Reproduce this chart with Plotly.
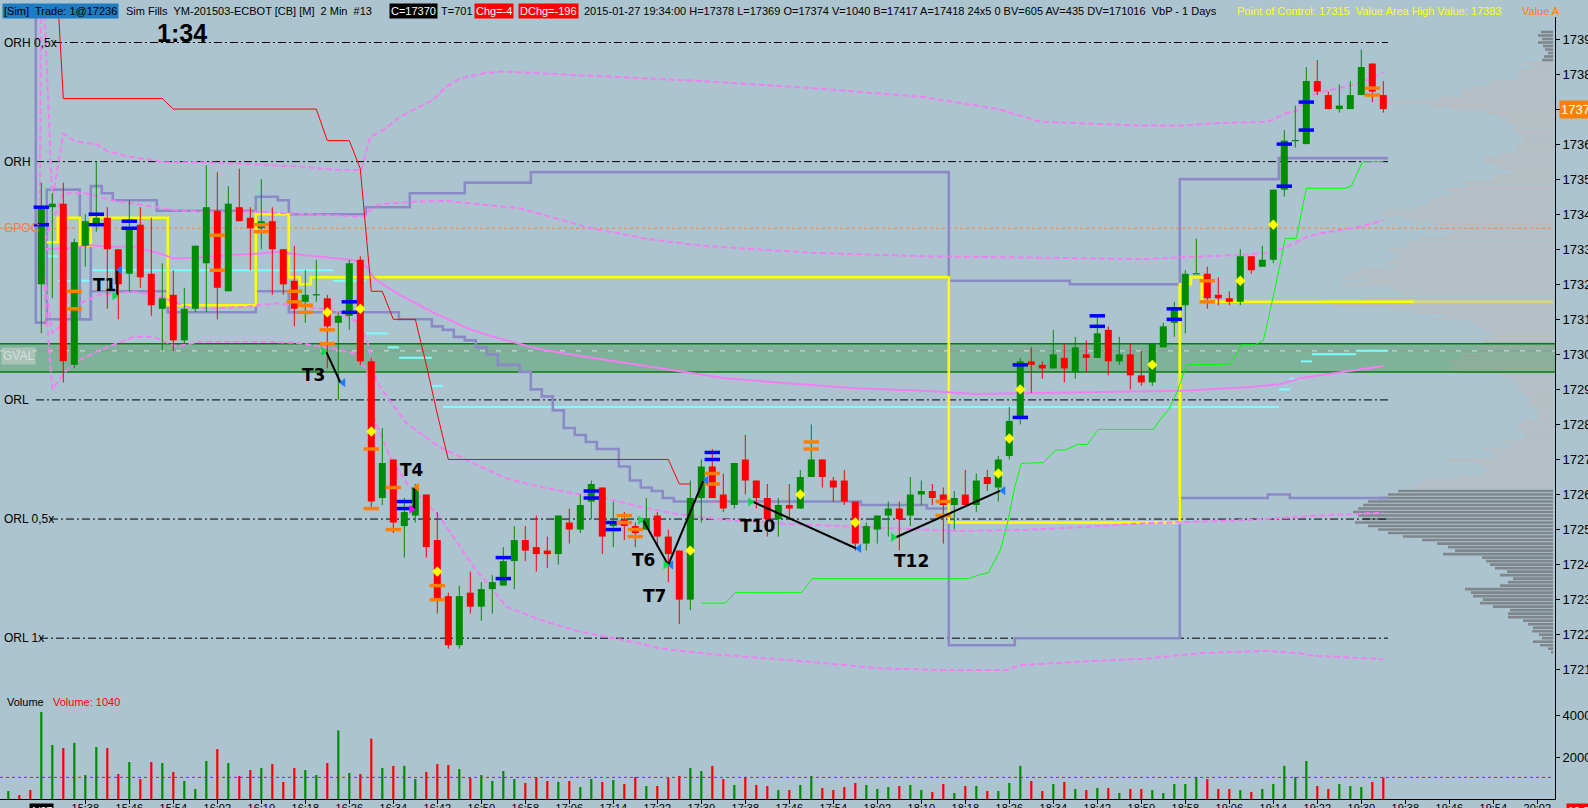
import plotly.graph_objects as go

BG = "#acc4d0"
FONT = "Liberation Sans, Arial, sans-serif"
GREEN = "#008c00"
RED = "#ff0000"

# YM 03-15, 2 min bars, 27 Jan 2015, bar 0 = 15:30 (session open)
OPEN = [17320, 17342, 17343, 17297, 17331, 17337, 17339, 17330, 17323, 17337,
        17323, 17313, 17317, 17304, 17313, 17326, 17341, 17318, 17342, 17339,
        17336, 17338, 17330, 17321, 17315, 17317, 17316, 17309, 17311, 17327,
        17298, 17259, 17270, 17251, 17254, 17260, 17247, 17231, 17217, 17232,
        17228, 17233, 17234, 17241, 17247, 17245, 17244, 17243, 17252, 17250,
        17258, 17262, 17251, 17253, 17251, 17250, 17254, 17248, 17244, 17230,
        17259, 17268, 17260, 17257, 17270, 17264, 17259, 17253, 17257, 17256,
        17265, 17270, 17264, 17264, 17258, 17246, 17250, 17254, 17256, 17254,
        17260, 17261, 17260, 17257, 17260, 17257, 17265, 17262, 17271, 17282,
        17298, 17297, 17296, 17299, 17295, 17300, 17299, 17307, 17298, 17300,
        17294, 17292, 17302, 17309, 17314, 17323, 17323, 17317, 17316, 17315,
        17328, 17325, 17327, 17347, 17361, 17360, 17378, 17374, 17370, 17370,
        17374, 17383, 17374]
HIGH = [17349, 17346, 17349, 17333, 17340, 17355, 17342, 17330, 17344, 17342,
        17339, 17326, 17324, 17319, 17331, 17354, 17352, 17348, 17353, 17342,
        17350, 17342, 17330, 17331, 17324, 17327, 17317, 17312, 17327, 17328,
        17299, 17279, 17270, 17259, 17263, 17260, 17255, 17232, 17234, 17238,
        17235, 17237, 17245, 17251, 17251, 17254, 17248, 17254, 17256, 17260,
        17264, 17262, 17258, 17255, 17252, 17259, 17255, 17250, 17244, 17264,
        17270, 17273, 17266, 17269, 17277, 17264, 17263, 17259, 17263, 17267,
        17280, 17270, 17265, 17267, 17258, 17252, 17254, 17258, 17258, 17265,
        17264, 17263, 17262, 17261, 17267, 17266, 17267, 17271, 17285, 17299,
        17302, 17298, 17307, 17303, 17305, 17304, 17311, 17308, 17305, 17303,
        17301, 17303, 17309, 17315, 17324, 17333, 17325, 17322, 17318, 17330,
        17328, 17331, 17347, 17364, 17371, 17382, 17384, 17375, 17377, 17378,
        17387, 17383, 17378]
LOW = [17306, 17316, 17292, 17296, 17325, 17335, 17313, 17310, 17318, 17319,
       17311, 17301, 17301, 17303, 17312, 17312, 17310, 17318, 17338, 17324,
       17330, 17317, 17317, 17308, 17309, 17315, 17296, 17287, 17307, 17297,
       17256, 17257, 17249, 17242, 17252, 17242, 17226, 17216, 17216, 17226,
       17224, 17226, 17234, 17233, 17241, 17238, 17239, 17240, 17246, 17249,
       17253, 17243, 17245, 17247, 17245, 17250, 17245, 17235, 17223, 17227,
       17252, 17259, 17255, 17256, 17260, 17256, 17248, 17248, 17253, 17256,
       17265, 17262, 17258, 17257, 17244, 17244, 17246, 17248, 17244, 17251,
       17257, 17257, 17246, 17250, 17257, 17255, 17261, 17258, 17270, 17280,
       17289, 17293, 17296, 17292, 17293, 17295, 17299, 17294, 17297, 17290,
       17291, 17291, 17302, 17305, 17306, 17323, 17313, 17314, 17314, 17314,
       17323, 17325, 17326, 17345, 17359, 17360, 17374, 17370, 17369, 17370,
       17374, 17372, 17369]
CLOSE = [17342, 17343, 17298, 17332, 17338, 17339, 17330, 17320, 17336, 17322,
         17314, 17316, 17304, 17313, 17331, 17342, 17319, 17343, 17338, 17336,
         17338, 17330, 17320, 17313, 17317, 17317, 17308, 17311, 17326, 17298,
         17258, 17269, 17252, 17255, 17262, 17245, 17230, 17217, 17231, 17228,
         17233, 17235, 17241, 17247, 17244, 17243, 17243, 17254, 17250, 17257,
         17263, 17248, 17252, 17251, 17249, 17253, 17248, 17243, 17230, 17259,
         17268, 17259, 17256, 17269, 17264, 17259, 17253, 17257, 17256, 17265,
         17270, 17265, 17262, 17258, 17246, 17251, 17254, 17256, 17253, 17260,
         17261, 17259, 17257, 17259, 17257, 17264, 17263, 17270, 17281, 17298,
         17297, 17296, 17300, 17296, 17302, 17299, 17306, 17298, 17300, 17294,
         17292, 17303, 17308, 17313, 17323, 17323, 17316, 17316, 17315, 17328,
         17324, 17327, 17347, 17361, 17361, 17378, 17375, 17370, 17371, 17374,
         17382, 17375, 17370]
VOLUME = [4180, 2600, 2450, 2700, 1150, 2500, 2450, 1200, 1780, 960,
          1780, 1730, 1300, 865, 480, 1830, 2400, 1730, 1105, 1395,
          1490, 1680, 820, 1490, 1395, 1150, 1730, 3300, 1250, 1200,
          2900, 1490, 1590, 1590, 960, 1300, 1680, 1630, 1440, 1010,
          1150, 865, 1345, 960, 770, 1060, 865, 820, 865, 575,
          960, 820, 915, 720, 1060, 625, 625, 1010, 1105, 1490,
          1345, 1590, 960, 675, 1060, 675, 625, 430, 430, 675,
          1105, 530, 430, 575, 770, 675, 480, 575, 625, 675,
          430, 335, 720, 290, 625, 625, 385, 385, 770, 1590,
          865, 385, 720, 820, 480, 430, 530, 530, 290, 480,
          480, 430, 290, 720, 720, 1060, 960, 480, 480, 430,
          335, 480, 720, 1590, 1060, 1830, 625, 480, 720, 625,
          575, 820, 1040]
PRE_VOLUME = [380, 190, 430]          # 15:24-15:28, before the open
PRE_UP = [True, False, False]
VOLUME_REF = 1040

TICK_TEXT = ["15:38", "15:46", "15:54", "16:02", "16:10", "16:18", "16:26", "16:34",
             "16:42", "16:50", "16:58", "17:06", "17:14", "17:22", "17:30", "17:38",
             "17:46", "17:54", "18:02", "18:10", "18:18", "18:26", "18:34", "18:42",
             "18:50", "18:58", "19:06", "19:14", "19:22", "19:30", "19:38", "19:46",
             "19:54", "20:02"]
DATE_LABEL = "1/27"

# opening range levels
OR_LEVELS = [("ORH 0,5x", 17389), ("ORH", 17355), ("ORL", 17287),
             ("ORL 0,5x", 17253), ("ORL 1x", 17219)]
GPOC = 17336
GVAL = 17301
GVAL_BAND = (17295, 17303)
POC = 17315

# developing value area / POC, (first bar, level)
DEV_POC = [(1, 17332), (2, 17339), (4, 17331), (5, 17339), (12, 17314), (20, 17340),
           (23, 17322), (24, 17320), (25, 17322), (83, 17252), (104, 17320),
           (105, 17322), (106, 17315)]
VAH = [(0, 17309), (1, 17347), (4, 17310), (5, 17348), (6, 17346), (7, 17344),
       (11, 17341), (20, 17345), (22, 17344), (23, 17340), (30, 17342), (34, 17346),
       (39, 17349), (45, 17352), (83, 17321), (94, 17320), (104, 17350), (113, 17356)]
VAL = [(0, 17309), (1, 17310), (5, 17318), (12, 17312), (20, 17318), (23, 17312),
       (33, 17310), (36, 17308), (37, 17307), (38, 17305), (39, 17304), (40, 17302),
       (41, 17300), (42, 17297), (44, 17295), (45, 17290), (46, 17288), (47, 17284),
       (48, 17279), (49, 17277), (50, 17275), (51, 17273), (53, 17268), (54, 17264),
       (55, 17262), (56, 17261), (57, 17259), (58, 17258), (75, 17257), (81, 17256),
       (83, 17217), (89, 17219), (104, 17259), (112, 17260), (114, 17259)]
CYAN = [(0, 17328), (2, 17321), (5, 17324), (27, 17321), (30, 17306), (32, 17302),
        (33, 17299), (36, 17291), (37, 17285), (113, 17290), (114, 17293),
        (115, 17298), (116, 17300), (120, 17301)]

# trailing stops
RED_TRAIL = [(0, 17430), (2, 17373), (12, 17370), (26, 17361), (29, 17353), (30, 17318),
             (32, 17310), (35, 17297), (36, 17283), (37, 17270), (58, 17263)]
RED_TRAIL_LAST = 59
LIME_TRAIL = [(60.0, 17229), (62.2, 17229), (63.1, 17232), (69.1, 17232), (70.1, 17236),
              (84.3, 17236), (85.2, 17237), (86.1, 17237.7), (87.2, 17244.2),
              (87.9, 17252.7), (88.5, 17262.2), (89.1, 17268.9), (91.1, 17269.1),
              (92.2, 17272.7), (93.1, 17272.7), (94.2, 17274.3), (95.1, 17274.3),
              (96.1, 17278.6), (101.1, 17278.6), (101.7, 17281.3), (102.5, 17284.3),
              (103.2, 17288.9), (103.7, 17293.2), (104.1, 17297), (108.1, 17297.2),
              (109.1, 17302.7), (110.3, 17302.7), (111.1, 17304), (112.1, 17318),
              (113.1, 17333.1), (114.1, 17333.1), (115.0, 17347.4), (118.5, 17347.4),
              (119.1, 17348), (120.1, 17355), (122.0, 17355)]

# VWAP and deviation bands (bar position, price)
VWAP = [(0, 17330), (2.6, 17330.3), (4.4, 17331.2), (6.2, 17330.7), (8.4, 17330.7),
        (10.8, 17328.8), (12, 17327.4), (13.2, 17327.4), (15.6, 17327.9), (17.5, 17328.4),
        (19.9, 17328.8), (21.4, 17329.3), (23.5, 17328.4), (26.5, 17327.4), (28.4, 17326.9),
        (29.6, 17325), (30.2, 17322), (30.8, 17320.5), (32.6, 17317), (35.6, 17312),
        (38.7, 17307.5), (41.1, 17305), (43.5, 17303), (45.3, 17301.5), (48.4, 17299.8),
        (51.4, 17298.4), (54.4, 17297), (57.5, 17295.5), (62.2, 17293.2), (68.1, 17291.7),
        (74.1, 17290.3), (80.2, 17289.6), (85, 17288.7), (89.3, 17288.9), (95.9, 17289.2),
        (103.5, 17289.6), (109.6, 17290.6), (112.6, 17291.5), (114.4, 17293.2),
        (117.5, 17294.6), (122, 17296.7)]
UPPER_1 = [(0, 17330), (1, 17338), (2, 17346), (4, 17346), (6.3, 17344), (9.3, 17342.6),
           (12, 17341.2), (15, 17340.7), (19.3, 17340.7), (22.3, 17340.3), (26.5, 17339.8),
           (29.3, 17339.3), (29.6, 17340.3), (30.5, 17342.6), (31.4, 17343), (34.1, 17343.6),
           (36.9, 17343.8), (38.7, 17343.3), (40.5, 17342.6), (43.5, 17341.7), (50, 17336),
           (55, 17333), (60, 17331), (70, 17329), (80, 17328), (90.8, 17327.6),
           (99.9, 17327.2), (103.8, 17327.7), (109, 17328.4), (111.7, 17329), (112.9, 17330.3),
           (113.8, 17331.5), (115.1, 17333.6), (116.2, 17334.5), (118, 17335.5),
           (119.9, 17336.4), (122, 17338.3)]
UPPER_2 = [(-0.15, 17330), (0, 17420), (1, 17344), (2, 17363), (3, 17361), (4, 17360.3),
           (5, 17360), (6, 17358), (8, 17356.4), (10, 17355.5), (11, 17354.8), (14.4, 17354.8),
           (17.4, 17354.5), (20.5, 17354), (23.5, 17353.6), (26.5, 17352.7), (29.1, 17352.6),
           (29.9, 17362.1), (31.1, 17364), (32.6, 17367.8), (34.4, 17370.7), (35.6, 17372.6),
           (36.8, 17376.4), (38.1, 17378.8), (40.2, 17380.2), (41.7, 17380.7), (43.5, 17380.5),
           (50, 17379.5), (60, 17378), (70, 17376), (80, 17373.5), (87, 17370),
           (90.8, 17366.4), (99.9, 17365.3), (103.8, 17365.3), (106.9, 17366), (111.4, 17366.4),
           (112, 17367), (112.9, 17368.6), (114.1, 17369.5), (115, 17373), (115.9, 17374.5),
           (118, 17376), (119.9, 17377.4), (122, 17380.4)]
LOWER_1 = [(0, 17330), (1, 17306), (2.3, 17309.8), (3.5, 17314.6), (5.3, 17317),
           (8.4, 17317.9), (10.8, 17316.5), (13.2, 17313.6), (15.6, 17313.1), (18.7, 17313.6),
           (21.4, 17314.6), (23.5, 17313.6), (26.5, 17312.7), (28.9, 17309), (29.7, 17303),
           (30.5, 17292), (33.2, 17280.3), (36.2, 17273.6), (39.3, 17268.9), (42.3, 17264.6),
           (45.3, 17262.2), (48.4, 17260.3), (51.4, 17258.9), (54.4, 17256.5), (57.5, 17254.6),
           (62, 17252.8), (68.1, 17251.6), (74.1, 17250.8), (80.2, 17249.9), (83.2, 17249.6),
           (89.3, 17249.9), (93.5, 17250.5), (100.5, 17251.8), (103.5, 17252.1),
           (109.6, 17252.7), (115.6, 17253.9), (122, 17254.8)]
LOWER_2 = [(0, 17330), (1, 17290), (2.3, 17295.5), (3.5, 17298.4), (5.3, 17301.2),
           (8.4, 17305), (10.2, 17305), (12.3, 17302.2), (14.4, 17303.6), (20.5, 17303.6),
           (23.5, 17303.2), (26.5, 17301.7), (28.4, 17300.3), (29.6, 17295.5), (30.2, 17282.2),
           (31.7, 17270.8), (33.2, 17263.2), (36.2, 17253.7), (39.3, 17239.4), (42.3, 17228),
           (45.3, 17224.3), (48.4, 17221.3), (51.4, 17219.4), (54.4, 17217.5), (56.2, 17216.1),
           (60.7, 17214.5), (69, 17212.5), (76.2, 17210.4), (82.3, 17209.9), (87.8, 17209.9),
           (89, 17211.3), (94.4, 17212.3), (100.5, 17213.2), (105.3, 17214.7), (109.6, 17215.2),
           (111.4, 17215.4), (114.4, 17214.7), (115.6, 17214), (122, 17213)]

# order markers on bars
BLUE_MARKS = [(0, 17342), (0, 17337), (5, 17340), (5, 17337), (8, 17338), (8, 17336),
              (28, 17315), (28, 17312), (33, 17258), (33, 17256), (42, 17242), (42, 17236),
              (50, 17261), (50, 17259), (52, 17252), (52, 17250), (61, 17272), (61, 17270),
              (89, 17297), (89, 17282), (96, 17311), (96, 17308), (103, 17313), (103, 17310),
              (113, 17360), (113, 17348), (115, 17372), (115, 17364)]
ORANGE_MARKS = [(3, 17318), (3, 17313), (16, 17334), (16, 17324), (20, 17337), (20, 17335),
                (23, 17318), (23, 17315), (24, 17314), (24, 17312), (26, 17307), (26, 17303),
                (30, 17273), (30, 17256), (32, 17262), (32, 17250), (36, 17234), (36, 17230),
                (53, 17254), (53, 17252), (54, 17250), (54, 17248), (61, 17266), (61, 17263),
                (70, 17275), (70, 17273), (82, 17258), (82, 17254), (106, 17321), (106, 17315),
                (121, 17376), (121, 17374)]
YELLOW_MARKS = [(26, 17312), (29, 17313), (30, 17278), (36, 17238), (59, 17244), (69, 17260),
                (74, 17252), (87, 17266), (88, 17276), (89, 17290), (101, 17297),
                (109, 17321), (112, 17337)]

# trades: label, entry (bar, price), exit (bar, price), label position
TRADES = [("T1", (6.9, 17316.7), (6.9, 17324.1), (5.7, 17319.8)),
          ("T3", (25.9, 17300.8), (27.2, 17291.9), (24.7, 17294.1)),
          ("T4", (33.9, 17255.8), (33.9, 17262.1), (33.7, 17267)),
          ("T6", (54.7, 17252.7), (57.0, 17239.9), (54.7, 17241.3)),
          ("T7", (57.0, 17239.9), (60.2, 17264.1), (55.7, 17231)),
          ("T10", (64.7, 17257.9), (74.1, 17244.6), (65.1, 17251)),
          ("T12", (77.7, 17247.8), (87.2, 17261.1), (79.1, 17241))]

# volume by price, 1 day, from 17392 down to 17215 (drawn 1 px per unit)
VBP_TOP = 17392
VBP_VOLUME = [12, 15, 11, 15, 10, 8, 5, 9, 11, 30, 20, 33, 35, 36, 61, 65, 83, 91, 90, 113,
              166, 120, 101, 65, 55, 45, 46, 36, 40, 35, 30, 30, 36, 38, 36, 51, 68, 68, 58, 50,
              41, 60, 60, 90, 85, 106, 100, 113, 123, 125, 134, 166, 174, 150, 140, 121, 110,
              100, 105, 133, 145, 145, 166, 160, 153, 160, 166, 158, 192, 200, 210, 183, 211,
              163, 156, 150, 190, 230, 221, 163, 138, 110, 120, 81, 75, 68, 62, 58, 70, 70, 73,
              75, 93, 93, 106, 100, 103, 96, 53, 40, 36, 33, 35, 30, 26, 23, 26, 20, 15, 18, 15,
              30, 35, 35, 30, 26, 30, 50, 40, 70, 60, 58, 106, 78, 70, 65, 70, 95, 131, 135,
              140, 155, 165, 175, 185, 190, 195, 200, 195, 190, 198, 185, 175, 165, 150, 131,
              116, 105, 98, 110, 71, 67, 63, 58, 46, 53, 40, 45, 53, 88, 82, 80, 70, 73, 60, 43,
              45, 45, 30, 25, 20, 21, 14, 11, 20, 13, 5, 2]

# ---- geometry (pixels of the 1588 x 808 page) ----
W, H = 1588, 808
BAR0_PX, BAR_PX = 41.3, 11.0
AXIS_PX = 1555


def bx(px):
    return (px - BAR0_PX) / BAR_PX


def fy(px):
    return 1 - px / H


X0, X1 = bx(0), bx(AXIS_PX)
X_END = bx(1388)
P_TOP = 17390 + (39 - 17) / 3.504
P_BOT = 17390 - (688 - 39) / 3.504
V_TOP = (799 - 688) * 2000 / 41.6

n = len(CLOSE)
up = []
for i in range(n):
    if CLOSE[i] != OPEN[i]:
        up.append(CLOSE[i] > OPEN[i])
    else:
        up.append(i == 0 or CLOSE[i] >= CLOSE[i - 1])

fig = go.Figure()


def line(xs, ys, color, width=1, dash=None, yaxis="y"):
    fig.add_trace(go.Scatter(x=xs, y=ys, mode="lines", yaxis=yaxis, hoverinfo="skip",
                             line=dict(color=color, width=width, dash=dash)))


def steps_xy(steps, end_x, gaps=False):
    xs, ys = [], []
    for j, (start, val) in enumerate(steps):
        if j + 1 < len(steps):
            x_end = steps[j + 1][0] - 0.5
        else:
            x_end = end_x
        xs += [start - 0.5, x_end]
        ys += [val, val]
        if gaps:
            xs.append(None)
            ys.append(None)
    return xs, ys


# volume profile rows
band_lo, band_hi = GVAL_BAND
rows = {"light": ([], []), "dark": ([], []), "band": ([], []), "poc": ([], [])}
x_right = bx(1553)
for j, v in enumerate(VBP_VOLUME):
    p = VBP_TOP - j
    if p == POC:
        key = "poc"
    elif band_lo <= p <= band_hi:
        key = "band"
    elif p >= 17384 or p <= 17261:
        key = "dark"
    else:
        key = "light"
    xs, ys = rows[key]
    xs += [x_right - v / BAR_PX, x_right, None]
    ys += [p, p, None]
for key, col in [("light", "#b7bdc1"), ("dark", "#7f878c"), ("band", "#8fae9c"), ("poc", "#dcdc6e")]:
    line(rows[key][0], rows[key][1], col, width=2.6)

# GVAL band
fig.add_shape(type="rect", xref="x", yref="y", x0=X0, x1=X1, y0=band_lo, y1=band_hi,
              fillcolor="rgba(0,128,0,0.26)", line_width=0, layer="below")
for lvl in GVAL_BAND:
    line([X0, X1], [lvl, lvl], "#0b7a0b", width=1.5)
line([X0, X1], [GVAL, GVAL], "#8e9a96", width=1)
line([X0, X1], [GVAL, GVAL], "#dfe6e6", width=1, dash="5px,11px")

# global POC
line([X0, bx(1553)], [GPOC, GPOC], "#ff7f2a", width=1, dash="dot")

# opening range lines
or_start = {"ORH 0,5x": 54, "ORH": 36, "ORL": 36, "ORL 0,5x": 50, "ORL 1x": 40}
for name, lvl in OR_LEVELS:
    line([bx(or_start[name]), X_END], [lvl, lvl], "black", width=1, dash="8px,3px,2px,3px")

# cyan segments
xs, ys = steps_xy(CYAN, X_END, gaps=True)
line(xs, ys, "#7ffcff", width=2)

# developing value area
xs, ys = steps_xy(VAH, X_END)
line(xs, ys, "#8a8ac6", width=2.6)
xs, ys = steps_xy(VAL, X_END)
line([-0.5] + xs, [P_TOP] + ys, "#8a8ac6", width=2.6)
xs, ys = steps_xy(DEV_POC, bx(1413))
line(xs, ys, "#ffff00", width=2.6)

# VWAP and bands
for pts, dash in [(UPPER_2, "6px,3px"), (UPPER_1, "6px,3px"), (VWAP, None),
                  (LOWER_1, "6px,3px"), (LOWER_2, "6px,3px")]:
    line([p[0] for p in pts], [p[1] for p in pts], "#f27ff2", width=2, dash=dash)

# trailing stops
red_vals = []
for k in range(RED_TRAIL_LAST + 1):
    val = None
    for start, v in RED_TRAIL:
        if start <= k:
            val = v
    red_vals.append(val)
line(list(range(RED_TRAIL_LAST + 1)), red_vals, "#ff0000", width=1)
line([p[0] for p in LIME_TRAIL], [p[1] for p in LIME_TRAIL], "#00ff00", width=1)

# volume
pre_x = [-len(PRE_VOLUME) + i for i in range(len(PRE_VOLUME))]
vol_x = pre_x + list(range(n))
vol_y = PRE_VOLUME + VOLUME
vol_c = [GREEN if u else RED for u in PRE_UP + up]
fig.add_trace(go.Bar(x=vol_x, y=vol_y, yaxis="y2", width=0.2, marker=dict(color=vol_c, line_width=0),
                     hoverinfo="skip"))
line([X0, bx(1553)], [VOLUME_REF, VOLUME_REF], "#7a1cff", width=1, dash="dot", yaxis="y2")

# candles
for is_up, col in [(True, GREEN), (False, RED)]:
    wx, wy, bxs, bys = [], [], [], []
    for i in range(n):
        if up[i] != is_up:
            continue
        wx += [i, i, None]
        wy += [LOW[i], HIGH[i], None]
        lo, hi = min(OPEN[i], CLOSE[i]), max(OPEN[i], CLOSE[i])
        if hi - lo < 0.35:
            lo, hi = lo - 0.18, hi + 0.18
        bxs += [i, i, None]
        bys += [lo, hi, None]
    line(wx, wy, col, width=1)
    line(bxs, bys, col, width=7)

# bar markers
for pts, col in [(BLUE_MARKS, "#0000ff"), (ORANGE_MARKS, "#ff8000")]:
    fig.add_trace(go.Scatter(x=[p[0] for p in pts], y=[p[1] for p in pts], mode="markers",
                             hoverinfo="skip",
                             marker=dict(symbol="line-ew", size=11, line=dict(color=col, width=3.5))))
fig.add_trace(go.Scatter(x=[p[0] for p in YELLOW_MARKS], y=[p[1] for p in YELLOW_MARKS],
                         mode="markers", hoverinfo="skip",
                         marker=dict(symbol="diamond", size=8, color="#ffff00", line_width=0)))

# trades
annotations = []
for name, (k1, p1), (k2, p2), (lk, lp) in TRADES:
    line([k1, k2], [p1, p2], "black", width=2)
    entry_col, exit_col = ("#ff00ff", "#ff8000") if name == "T4" else ("#00e040", "#1e7bff")
    fig.add_trace(go.Scatter(x=[k1 - 0.25], y=[p1], mode="markers", hoverinfo="skip",
                             marker=dict(symbol="triangle-right", size=8, color=entry_col)))
    fig.add_trace(go.Scatter(x=[k2 + 0.25], y=[p2], mode="markers", hoverinfo="skip",
                             marker=dict(symbol="triangle-left", size=8, color=exit_col)))
    annotations.append(dict(x=lk, y=lp, xref="x", yref="y", text="<b>%s</b>" % name,
                            showarrow=False, xanchor="center", yanchor="middle",
                            font=dict(family="DejaVu Sans", size=17, color="black")))

# left level labels
for name, lvl in OR_LEVELS:
    annotations.append(dict(x=2 / W, y=lvl, xref="paper", yref="y", text=name, showarrow=False,
                            xanchor="left", yanchor="middle",
                            font=dict(family=FONT, size=12, color="black")))
annotations.append(dict(x=2 / W, y=GPOC, xref="paper", yref="y", text="GPOC", showarrow=False,
                        xanchor="left", yanchor="middle", font=dict(family=FONT, size=12, color="#f0803c")))
annotations.append(dict(x=1 / W, y=GVAL - 1.5, xref="paper", yref="y", text="GVAL", showarrow=False,
                        xanchor="left", yanchor="middle", bgcolor="rgba(200,212,208,0.55)", borderpad=1,
                        font=dict(family=FONT, size=12, color="#d6dede")))

# header line
HEADER = [(2, "[Sim]  Trade: 1@17236", "black", "#1d7cc2"),
          (124, "Sim Fills  YM-201503-ECBOT [CB] [M]  2 Min  #13", "black", None),
          (389, "C=17370", "white", "black"),
          (439, "T=701", "black", None),
          (474, "Chg=-4", "white", "#ff0000"),
          (518, "DChg=-196", "white", "#ff0000"),
          (582, "2015-01-27 19:34:00 H=17378 L=17369 O=17374 V=1040 B=17417 A=17418 24x5 0 "
                "BV=605 AV=435 DV=171016  VbP - 1 Days", "black", None),
          (1235, "Point of Control: 17315  Value Area High Value: 17383", "#ffff00", None),
          (1520, "Value A", "#ff8000", None)]
for x_px, text, col, bg in HEADER:
    a = dict(x=x_px / W, y=fy(11), xref="paper", yref="paper", text=text, showarrow=False,
             xanchor="left", yanchor="middle", borderpad=1,
             font=dict(family=FONT, size=11, color=col))
    if bg:
        a["bgcolor"] = bg
    annotations.append(a)

annotations.append(dict(x=182 / W, y=fy(33), xref="paper", yref="paper", text="<b>1:34</b>",
                        showarrow=False, xanchor="center", yanchor="middle",
                        font=dict(family=FONT, size=25, color="black")))
annotations.append(dict(x=5 / W, y=fy(702), xref="paper", yref="paper", text="Volume",
                        showarrow=False, xanchor="left", yanchor="middle",
                        font=dict(family=FONT, size=11, color="black")))
annotations.append(dict(x=51 / W, y=fy(702), xref="paper", yref="paper", text="Volume: 1040",
                        showarrow=False, xanchor="left", yanchor="middle",
                        font=dict(family=FONT, size=11, color="#ff0000")))
annotations.append(dict(x=1559 / W, y=CLOSE[-1], xref="paper", yref="y", text=str(CLOSE[-1]),
                        showarrow=False, xanchor="left", yanchor="middle", bgcolor="#ff8000",
                        borderpad=1, font=dict(family=FONT, size=13, color="white")))
annotations.append(dict(x=0, y=fy(803), xref="x", yref="paper", text=DATE_LABEL, showarrow=False,
                        xanchor="center", yanchor="top", bgcolor="black", borderpad=1,
                        font=dict(family=FONT, size=11, color="white")))
annotations.append(dict(x=1566 / W, y=fy(803), xref="paper", yref="paper", text="19:34",
                        showarrow=False, xanchor="left", yanchor="top", bgcolor="#ff0000",
                        borderpad=1, font=dict(family=FONT, size=11, color="white")))

price_ticks = list(range(17210, 17391, 10))
fig.update_layout(
    template="none",
    width=W, height=H,
    margin=dict(l=0, r=0, t=0, b=0),
    paper_bgcolor=BG, plot_bgcolor=BG,
    showlegend=False, barmode="overlay",
    font=dict(family=FONT, color="black"),
    annotations=annotations,
    xaxis=dict(domain=[0, AXIS_PX / W], range=[X0, X1], anchor="y2", automargin=False,
               showgrid=False, zeroline=False, showline=True, linecolor="black", linewidth=1,
               ticks="outside", ticklen=4, tickcolor="black", ticklabelstandoff=-5,
               tickvals=list(range(4, 4 * len(TICK_TEXT) + 1, 4)), ticktext=TICK_TEXT,
               tickfont=dict(size=11, color="black")),
    yaxis=dict(domain=[1 - 688 / H, 1 - 17 / H], range=[P_BOT, P_TOP], side="right", anchor="x",
               automargin=False, showgrid=False, zeroline=False, showline=True, linecolor="black",
               linewidth=1, ticks="outside", ticklen=4, tickcolor="black",
               tickvals=price_ticks, ticktext=[str(t) for t in price_ticks],
               tickfont=dict(size=13, color="black")),
    yaxis2=dict(domain=[1 - 799 / H, 1 - 688 / H], range=[0, V_TOP], side="right", anchor="x",
                automargin=False, showgrid=False, zeroline=False, showline=True, linecolor="black",
                linewidth=1, ticks="outside", ticklen=4, tickcolor="black",
                tickvals=[2000, 4000], ticktext=["2000", "4000"],
                tickfont=dict(size=13, color="black")),
)

fig.write_html("out.html", config={"displayModeBar": False},
               post_script="document.body.style.margin='0';document.body.style.overflow='hidden';")
